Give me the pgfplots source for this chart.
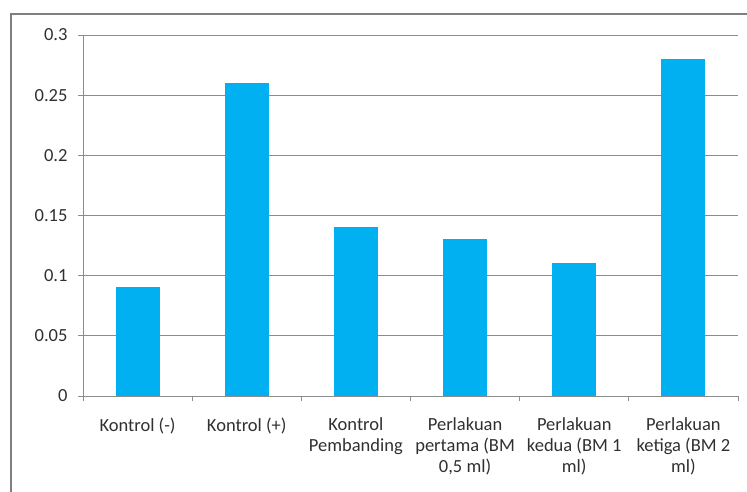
\documentclass[border=0pt]{standalone}
\usepackage{pgfplots}
\pgfplotsset{compat=1.18}
\usepackage{fontspec}
\setmainfont{Carlito}
\definecolor{barblue}{HTML}{00B0F0}
\definecolor{gridgray}{HTML}{8C8C8C}
\definecolor{framegray}{HTML}{7F7F7F}
\definecolor{txt}{HTML}{303030}
\begin{document}
\begin{tikzpicture}
\begin{axis}[
  name=ax,
  at={(0pt,0pt)}, anchor=south west,
  scale only axis, width=655pt, height=361pt,
  xmin=-0.5, xmax=5.5, ymin=0, ymax=0.3,
  axis lines=left, axis line style={-, draw=gridgray, line width=0.8pt},
  ymajorgrids, grid style={draw=gridgray, line width=0.8pt},
  ytick={0,0.05,0.1,0.15,0.2,0.25,0.3},
  yticklabels={0,0.05,0.1,0.15,0.2,0.25,0.3},
  xtick={-0.5,0.5,1.5,2.5,3.5,4.5,5.5},
  x tick label as interval,
  xticklabels={{Kontrol (-)},{Kontrol (+)},{Kontrol\\Pembanding},{Perlakuan\\pertama (BM\\0,5 ml)},{Perlakuan\\kedua (BM 1\\ml)},{Perlakuan\\ketiga (BM 2\\ml)}},
  tick align=outside, major tick length=5pt,
  tick style={draw=gridgray, line width=0.8pt},
  tick label style={font=\fontsize{18.5}{21}\selectfont, text=txt},
  x tick label style={align=center, yshift=-13pt},
  y tick label style={xshift=-7pt},
  clip=false,
]
\addplot[ybar, bar width=0.394, fill=barblue, draw=barblue, line width=0pt] coordinates {
  (0,0.09) (1,0.26) (2,0.14) (3,0.13) (4,0.11) (5,0.28)
};
\end{axis}
\draw[color=framegray, line width=1.3pt] ([shift={(-72pt,-96pt)}]ax.south west) -- ([shift={(-72pt,382pt)}]ax.south west) -- ([shift={(664pt,382pt)}]ax.south west);
\pgfresetboundingbox
\useasboundingbox ([shift={(-83pt,-96pt)}]ax.south west) rectangle ([shift={(664pt,396pt)}]ax.south west);
\end{tikzpicture}
\end{document}
